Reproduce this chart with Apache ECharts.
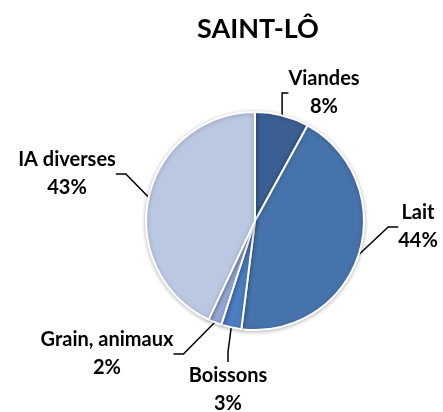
<!DOCTYPE html>
<html><head><meta charset="utf-8">
<script src="https://cdn.jsdelivr.net/npm/echarts@6/dist/echarts.min.js"></script>
<style>html,body{margin:0;padding:0;background:#fff}#c{width:443px;height:412px}</style>
</head><body><div id="c"></div>
<script>
const categories = ['Viandes', 'Lait', 'Boissons', 'Grain, animaux', 'IA diverses'];
const values = [8, 44, 3, 2, 43];
const colors = ['#3c5f93', '#4673ab', '#4b7dc0', '#94a8d3', '#bac8e2'];
const labelPos = [
  {x: 324, y: 93},
  {x: 418, y: 227},
  {x: 228, y: 390},
  {x: 107, y: 354},
  {x: 67, y: 174}
];
const chart = echarts.init(document.getElementById('c'));
chart.setOption({
  animation: false,
  title: {
    text: 'SAINT-LÔ', left: 253, top: 11, textAlign: 'center',
    textStyle: {fontFamily: 'Lato', fontWeight: 'bold', fontSize: 27, color: '#000'}
  },
  series: [{
    type: 'pie',
    center: [255, 221],
    radius: 109,
    startAngle: 90,
    clockwise: true,
    data: categories.map((n, i) => ({name: n, value: values[i], itemStyle: {color: colors[i]}})),
    itemStyle: {borderColor: '#fff', borderWidth: 2, shadowBlur: 4, shadowColor: 'rgba(0,0,0,0.25)', shadowOffsetY: 1},
    label: {
      show: true, position: 'outside',
      formatter: '{b}\n{d}%',
      fontFamily: 'Lato', fontWeight: 'bold', fontSize: 20, color: '#000',
      lineHeight: 28, align: 'center'
    },
    labelLine: {show: true, length: 15, length2: 10, lineStyle: {color: '#000', width: 1.5}},
    labelLayout: function (p) {
      const pos = labelPos[p.dataIndex];
      return {x: pos.x, y: pos.y, align: 'center', verticalAlign: 'middle'};
    }
  }]
});
</script></body></html>
